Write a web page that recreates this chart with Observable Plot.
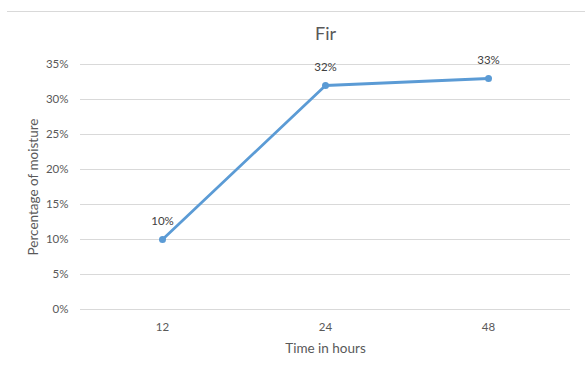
<!DOCTYPE html>
<html>
<head>
<meta charset="utf-8">
<script src="https://cdn.jsdelivr.net/npm/d3@7"></script>
<script src="https://cdn.jsdelivr.net/npm/@observablehq/plot@0.6"></script>
<style>
  html, body { margin: 0; padding: 0; background: #fff; }
  #chart { position: relative; width: 585px; height: 371px; overflow: hidden; }
  #chart .topline { position: absolute; left: 7px; right: 0; top: 11px; height: 1px; background: #d9d9d9; }
  #chart svg { position: absolute; left: 0; top: 0; }
</style>
</head>
<body>
<div id="chart"><div class="topline"></div></div>
<script>
// Moisture content of fir samples over drying time
const hours = ["12", "24", "48"];
const moisture = [0.10, 0.32, 0.33];
const yTicks = [0, 0.05, 0.10, 0.15, 0.20, 0.25, 0.30, 0.35];

const title = "Fir";
const xLabel = "Time in hours";
const yLabel = "Percentage of moisture";

const data = hours.map((h, i) => ({hour: h, value: moisture[i]}));
const pct = d3.format(".0%");

const textColor = "#595959";
const lineColor = "#5B9BD5";
const font = "Lato, 'Open Sans', sans-serif";

const chart = Plot.plot({
  width: 585,
  height: 371,
  marginLeft: 80,
  marginRight: 15,
  marginTop: 64,
  marginBottom: 62,
  style: {fontFamily: font, color: textColor, background: "transparent"},
  x: {type: "point", domain: hours, padding: 0.5},
  y: {domain: [0, 0.35]},
  marks: [
    Plot.gridY(yTicks, {stroke: "#d9d9d9", strokeOpacity: 1, strokeWidth: 1}),
    Plot.axisY(yTicks, {
      tickSize: 0, tickPadding: 12, tickFormat: pct,
      fontSize: 11.5, fill: textColor, label: null
    }),
    Plot.axisX({
      tickSize: 0, tickPadding: 13, fontSize: 11.5, fill: textColor, label: null
    }),
    Plot.line(data, {x: "hour", y: "value", stroke: lineColor, strokeWidth: 2.8}),
    Plot.dot(data, {x: "hour", y: "value", r: 3.5, fill: lineColor, stroke: "none"}),
    Plot.text(data, {
      x: "hour", y: "value", text: d => pct(d.value),
      dy: -18, fontSize: 11.5, fill: "#404040"
    }),
    // Title
    Plot.text([title], {
      frameAnchor: "top", lineAnchor: "middle", dy: -30, fontSize: 18, fill: textColor
    }),
    // Axis titles
    Plot.text([xLabel], {
      frameAnchor: "bottom", lineAnchor: "middle", dy: 39, fontSize: 13.5, fill: textColor
    }),
    Plot.text([yLabel], {
      frameAnchor: "left", textAnchor: "middle", lineAnchor: "middle",
      dx: -47, rotate: -90, fontSize: 13.5, fill: textColor
    })
  ]
});

document.getElementById("chart").appendChild(chart);
</script>
</body>
</html>
